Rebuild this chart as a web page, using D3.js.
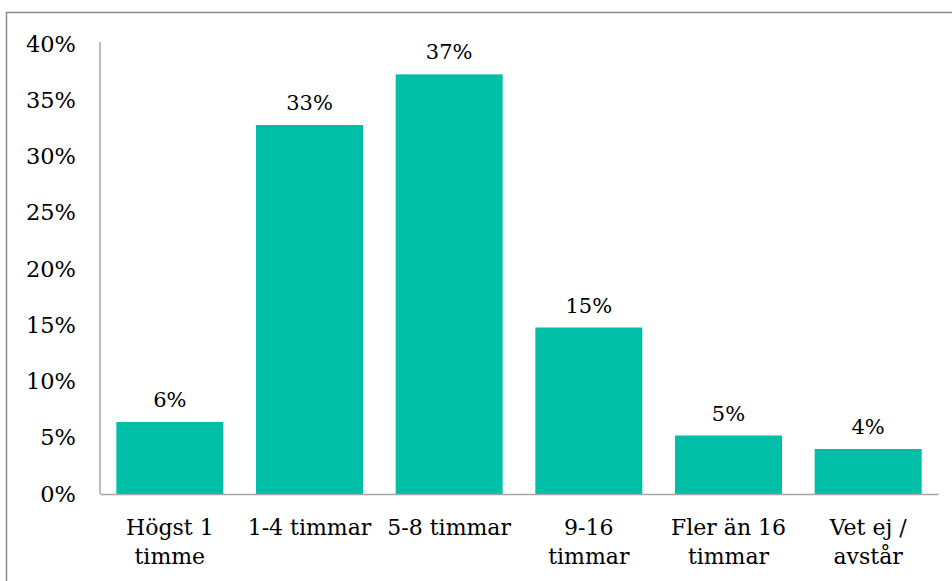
<!DOCTYPE html>
<html>
<head>
<meta charset="utf-8">
<script src="https://cdn.jsdelivr.net/npm/d3@7"></script>
<style>
  html, body { margin: 0; padding: 0; background: #fff; }
  svg { display: block; }
  text { font-family: Georgia, "DejaVu Serif", serif; fill: #000; }
</style>
</head>
<body>
<svg id="chart" width="952" height="581"></svg>
<script>
const categories = ["Högst 1\ntimme", "1-4 timmar", "5-8 timmar", "9-16\ntimmar", "Fler än 16\ntimmar", "Vet ej /\navstår"];
const values = [6.4, 32.8, 37.3, 14.8, 5.2, 4.0];
const valueLabels = ["6%", "33%", "37%", "15%", "5%", "4%"];
const yTicks = [0, 5, 10, 15, 20, 25, 30, 35, 40];

const svg = d3.select("#chart");
const W = 952, H = 581;
const m = { left: 100, right: 14, top: 44, bottom: 87 };

// outer border
svg.append("rect")
  .attr("x", 6.5).attr("y", 12.5)
  .attr("width", W + 20).attr("height", H + 20)
  .attr("fill", "none").attr("stroke", "#8c8c8c").attr("stroke-width", 1.5);

const x = d3.scaleBand().domain(categories).range([m.left, W - m.right]).paddingInner(0.234).paddingOuter(0.117);
const y = d3.scaleLinear().domain([0, 40]).range([H - m.bottom, m.top]);

// bars
svg.append("g").selectAll("rect").data(values).join("rect")
  .attr("x", (d, i) => x(categories[i]))
  .attr("y", d => y(d))
  .attr("width", x.bandwidth())
  .attr("height", d => y(0) - y(d))
  .attr("fill", "#00BFA6");

// value labels
svg.append("g").selectAll("text").data(values).join("text")
  .attr("x", (d, i) => x(categories[i]) + x.bandwidth() / 2)
  .attr("y", d => y(d) - 15)
  .attr("text-anchor", "middle")
  .attr("font-size", 21)
  .text((d, i) => valueLabels[i]);

// y axis
const yAxis = d3.axisLeft(y).tickValues(yTicks).tickFormat(d => d + "%").tickSize(0).tickPadding(24);
const gy = svg.append("g").attr("transform", `translate(${m.left},0)`).call(yAxis);
gy.select(".domain").attr("stroke", "#a6a6a6").attr("stroke-width", 1.5).attr("d", `M0,${y(0)}V${m.top - 2}`);
gy.selectAll("text").attr("font-size", 22.5).attr("font-family", 'Georgia, "DejaVu Serif", serif').attr("fill", "#000");

// x axis
const xAxis = d3.axisBottom(x).tickSize(0).tickFormat("");
const gx = svg.append("g").attr("transform", `translate(0,${y(0)})`).call(xAxis);
gx.select(".domain").attr("stroke", "#a6a6a6").attr("stroke-width", 1.5);

// category labels (multi-line)
const cl = svg.append("g").selectAll("text").data(categories).join("text")
  .attr("x", d => x(d) + x.bandwidth() / 2)
  .attr("y", 535)
  .attr("text-anchor", "middle")
  .attr("font-size", 22);
cl.each(function(d) {
  const lines = d.split("\n");
  const t = d3.select(this);
  lines.forEach((ln, j) => {
    t.append("tspan").attr("x", x(d) + x.bandwidth() / 2).attr("dy", j === 0 ? 0 : 29).text(ln);
  });
});
</script>
</body>
</html>
